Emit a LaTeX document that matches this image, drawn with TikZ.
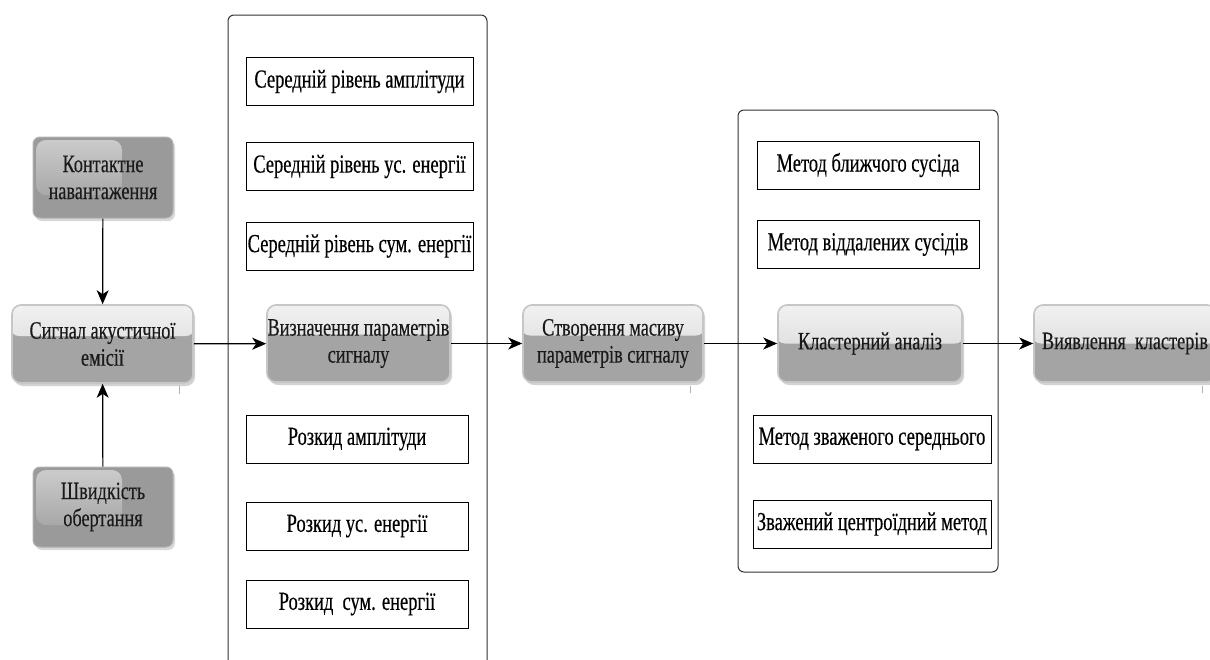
\documentclass[tikz,border=0pt]{standalone}
\usepackage{fontspec}
\setmainfont{Liberation Serif}[FakeStretch=0.71,FakeBold=0.35]
\newfontfamily\glossfont{Liberation Serif}[FakeStretch=0.73,FakeBold=0.35]
\usetikzlibrary{shadows,arrows.meta}
\definecolor{lowgray}{HTML}{A4A4A4}
\definecolor{topA}{HTML}{F2F2F2}
\definecolor{topB}{HTML}{D2D2D2}
\definecolor{bordergray}{HTML}{C6C6C6}
\definecolor{darkbox}{HTML}{9A9A9A}
\definecolor{darkedge}{HTML}{B2B2B2}
\definecolor{hlA}{HTML}{CDCDCD}
\definecolor{txt}{HTML}{1A1A1A}
\newcommand{\fsz}{\fontsize{26}{24}\selectfont}
\newcommand{\gsz}{\glossfont\fontsize{25}{27}\selectfont}
\tikzset{
  glosssplit/.store in=\glosssplit, glosssplit=6pt,
  gloss/.style={draw=bordergray, line width=1.6pt, rounded corners=9pt, fill=lowgray,
    minimum height=77pt, inner sep=0pt, align=center, font=\gsz, text=txt,
    drop shadow={opacity=0.35, shadow xshift=2pt, shadow yshift=-3pt},
    path picture={\fill[top color=topA, bottom color=topB]
      ([xshift=-2pt,yshift=2pt]path picture bounding box.north west) rectangle
      ([xshift=2pt,yshift=\glosssplit]path picture bounding box.east);}},
  darkgloss/.style={fill=darkbox, draw=darkedge, line width=1pt, rounded corners=7pt,
    minimum width=140pt, minimum height=81pt,
    inner sep=0pt, align=center, font=\gsz, text=txt,
    drop shadow={opacity=0.3, shadow xshift=2pt, shadow yshift=-3pt},
    path picture={\fill[top color=hlA, bottom color=darkbox, rounded corners=10pt]
      ([xshift=3pt,yshift=-3pt]path picture bounding box.north west) rectangle
      ([xshift=89pt,yshift=-58pt]path picture bounding box.north west);}},
  listbox/.style={draw=black, line width=1pt, fill=white, minimum height=48pt,
    inner sep=0pt, font=\fsz, text=black},
  container/.style={draw=black!80, line width=1pt, rounded corners=6pt},
  arr/.style={line width=1.2pt, -{Stealth[length=14pt,width=12pt,inset=4pt]}},
  tick/.style={draw=gray!60, line width=0.6pt}
}
\begin{document}
\begin{tikzpicture}[x=1pt,y=-1pt]
\useasboundingbox (0,0) rectangle (1210,659);
\fill[white] (0,0) rectangle (1210,659);

% containers
\draw[container] (228,680) -- (228,15) -- (487,15) -- (487,680);
\draw[container] (738,110) rectangle (998,572);

% list boxes, container 1
\node[listbox, minimum width=227pt] (a1) at (359.5,81.5) {Середній рівень амплітуди};
\node[listbox, minimum width=227pt] (a2) at (359.5,166.5) {Середній рівень ус. енергії};
\node[listbox, minimum width=227pt] (a3) at (359.5,246) {Середній рівень сум. енергії};
\node[listbox, minimum width=222pt] (b1) at (357,439) {Розкид амплітуди};
\node[listbox, minimum width=222pt] (b2) at (357,526) {Розкид ус. енергії};
\node[listbox, minimum width=222pt] (b3) at (357,604) {Розкид\ \ сум. енергії};

% list boxes, container 2
\node[listbox, minimum width=222pt] (m1) at (868,165) {Метод ближчого сусіда};
\node[listbox, minimum width=222pt] (m2) at (868,244.5) {Метод віддалених сусідів};
\node[listbox, minimum width=238pt] (m3) at (872,439) {Метод зваженого середнього};
\node[listbox, minimum width=238pt] (m4) at (872,524) {Зважений центроїдний метод};

% gloss boxes
\node[darkgloss] (kn) at (103,177.5) {Контактне\\навантаження};
\node[darkgloss, minimum height=80pt] (sh) at (103,507) {Швидкість\\обертання};
\node[gloss, minimum width=181pt, minimum height=78pt, glosssplit=8pt] (sig) at (102.5,344) {Сигнал акустичної\\емісії};
\node[gloss, minimum width=183pt, glosssplit=9pt] (viz) at (358.5,343.5) {Визначення параметрів\\сигналу};
\node[gloss, minimum width=180pt, glosssplit=8pt] (stv) at (613,343.5) {Створення масиву\\параметрів сигналу};
\node[gloss, minimum width=184pt, glosssplit=0pt] (kla) at (870,343.5) {Кластерний аналіз};
\node[gloss, minimum width=182pt, glosssplit=0pt] (vyy) at (1125,343.5) {Виявлення\ \ кластерів};

% connectors
\draw[arr] (kn) -- (sig);
\draw[arr] (sh) -- (sig);
\draw[arr] (sig) -- (viz);
\draw[arr] (viz) -- (stv);
\draw[arr] (stv) -- (kla);
\draw[arr] (kla) -- (vyy);

% small marks below boxes
\draw[tick] (179,386) -- (179,394);
\draw[tick] (690,386) -- (690,393);
\draw[tick] (1202,386) -- (1202,393);
\end{tikzpicture}
\end{document}
